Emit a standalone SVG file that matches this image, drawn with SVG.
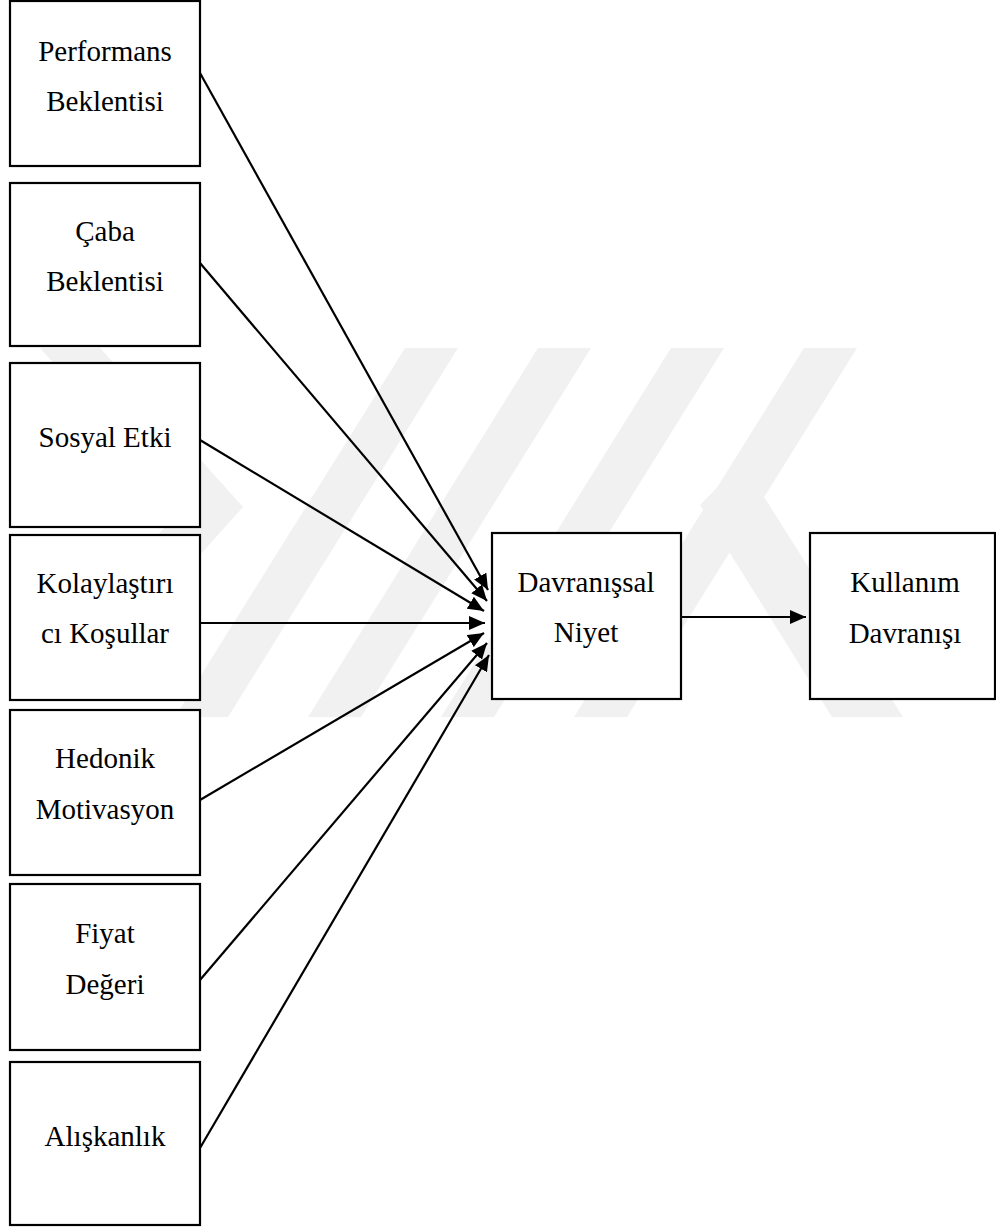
<svg xmlns="http://www.w3.org/2000/svg" width="996" height="1227" viewBox="0 0 996 1227">
<style>
.box{fill:#fff;stroke:#000;stroke-width:2.2}
.lbl{font-family:"Liberation Serif","Times New Roman",serif;font-size:29px;fill:#000;text-anchor:middle}
.con{stroke:#000;stroke-width:2.2;fill:none}
.wm{fill:#f1f1f1}
</style>
<defs>
<marker id="ah" viewBox="0 0 16 14" refX="16" refY="7" markerWidth="16" markerHeight="14" markerUnits="userSpaceOnUse" orient="auto">
<path d="M0,0 L16,7 L0,14 z" fill="#000"/>
</marker>
</defs>
<rect width="996" height="1227" fill="#fff"/>
<g id="watermark">
<polygon class="wm" points="40,348 100,348 243,507 100,666 40,666 183,507"/>
<polygon class="wm" points="405,348 458,348 228,717 175,717"/>
<polygon class="wm" points="538,348 591,348 361,717 308,717"/>
<polygon class="wm" points="671,348 724,348 494,717 441,717"/>
<polygon class="wm" points="804,348 857,348 627,717 574,717"/>
<polygon class="wm" points="700,505 742,462 903,717 832,717"/>
</g>
<g id="connectors">
<line class="con" x1="200" y1="73" x2="488" y2="590" marker-end="url(#ah)"/>
<line class="con" x1="200" y1="263" x2="487" y2="601" marker-end="url(#ah)"/>
<line class="con" x1="200" y1="440" x2="484" y2="611" marker-end="url(#ah)"/>
<line class="con" x1="200" y1="623" x2="485" y2="623" marker-end="url(#ah)"/>
<line class="con" x1="200" y1="800" x2="484" y2="633" marker-end="url(#ah)"/>
<line class="con" x1="200" y1="980" x2="487" y2="643" marker-end="url(#ah)"/>
<line class="con" x1="200" y1="1148" x2="489" y2="655" marker-end="url(#ah)"/>
<line class="con" x1="681" y1="617" x2="806" y2="617" marker-end="url(#ah)"/>
</g>
<g id="n-performans">
<rect class="box" x="10" y="1" width="190" height="165"/>
<text class="lbl" x="105" y="61">Performans</text>
<text class="lbl" x="105" y="111">Beklentisi</text>
</g>
<g id="n-caba">
<rect class="box" x="10" y="183" width="190" height="163"/>
<text class="lbl" x="105" y="241">Çaba</text>
<text class="lbl" x="105" y="291">Beklentisi</text>
</g>
<g id="n-sosyal">
<rect class="box" x="10" y="363" width="190" height="164"/>
<text class="lbl" x="105" y="447">Sosyal Etki</text>
</g>
<g id="n-kolay">
<rect class="box" x="10" y="535" width="190" height="165"/>
<text class="lbl" x="105" y="593">Kolaylaştırı</text>
<text class="lbl" x="105" y="643">cı Koşullar</text>
</g>
<g id="n-hedonik">
<rect class="box" x="10" y="710" width="190" height="165"/>
<text class="lbl" x="105" y="768">Hedonik</text>
<text class="lbl" x="105" y="819">Motivasyon</text>
</g>
<g id="n-fiyat">
<rect class="box" x="10" y="884" width="190" height="166"/>
<text class="lbl" x="105" y="943">Fiyat</text>
<text class="lbl" x="105" y="994">Değeri</text>
</g>
<g id="n-aliskanlik">
<rect class="box" x="10" y="1062" width="190" height="163"/>
<text class="lbl" x="105" y="1146">Alışkanlık</text>
</g>
<g id="n-niyet">
<rect class="box" x="492" y="533" width="189" height="166"/>
<text class="lbl" x="586" y="592">Davranışsal</text>
<text class="lbl" x="586" y="642">Niyet</text>
</g>
<g id="n-kullanim">
<rect class="box" x="810" y="533" width="185" height="166"/>
<text class="lbl" x="905" y="592">Kullanım</text>
<text class="lbl" x="905" y="643">Davranışı</text>
</g>
</svg>
